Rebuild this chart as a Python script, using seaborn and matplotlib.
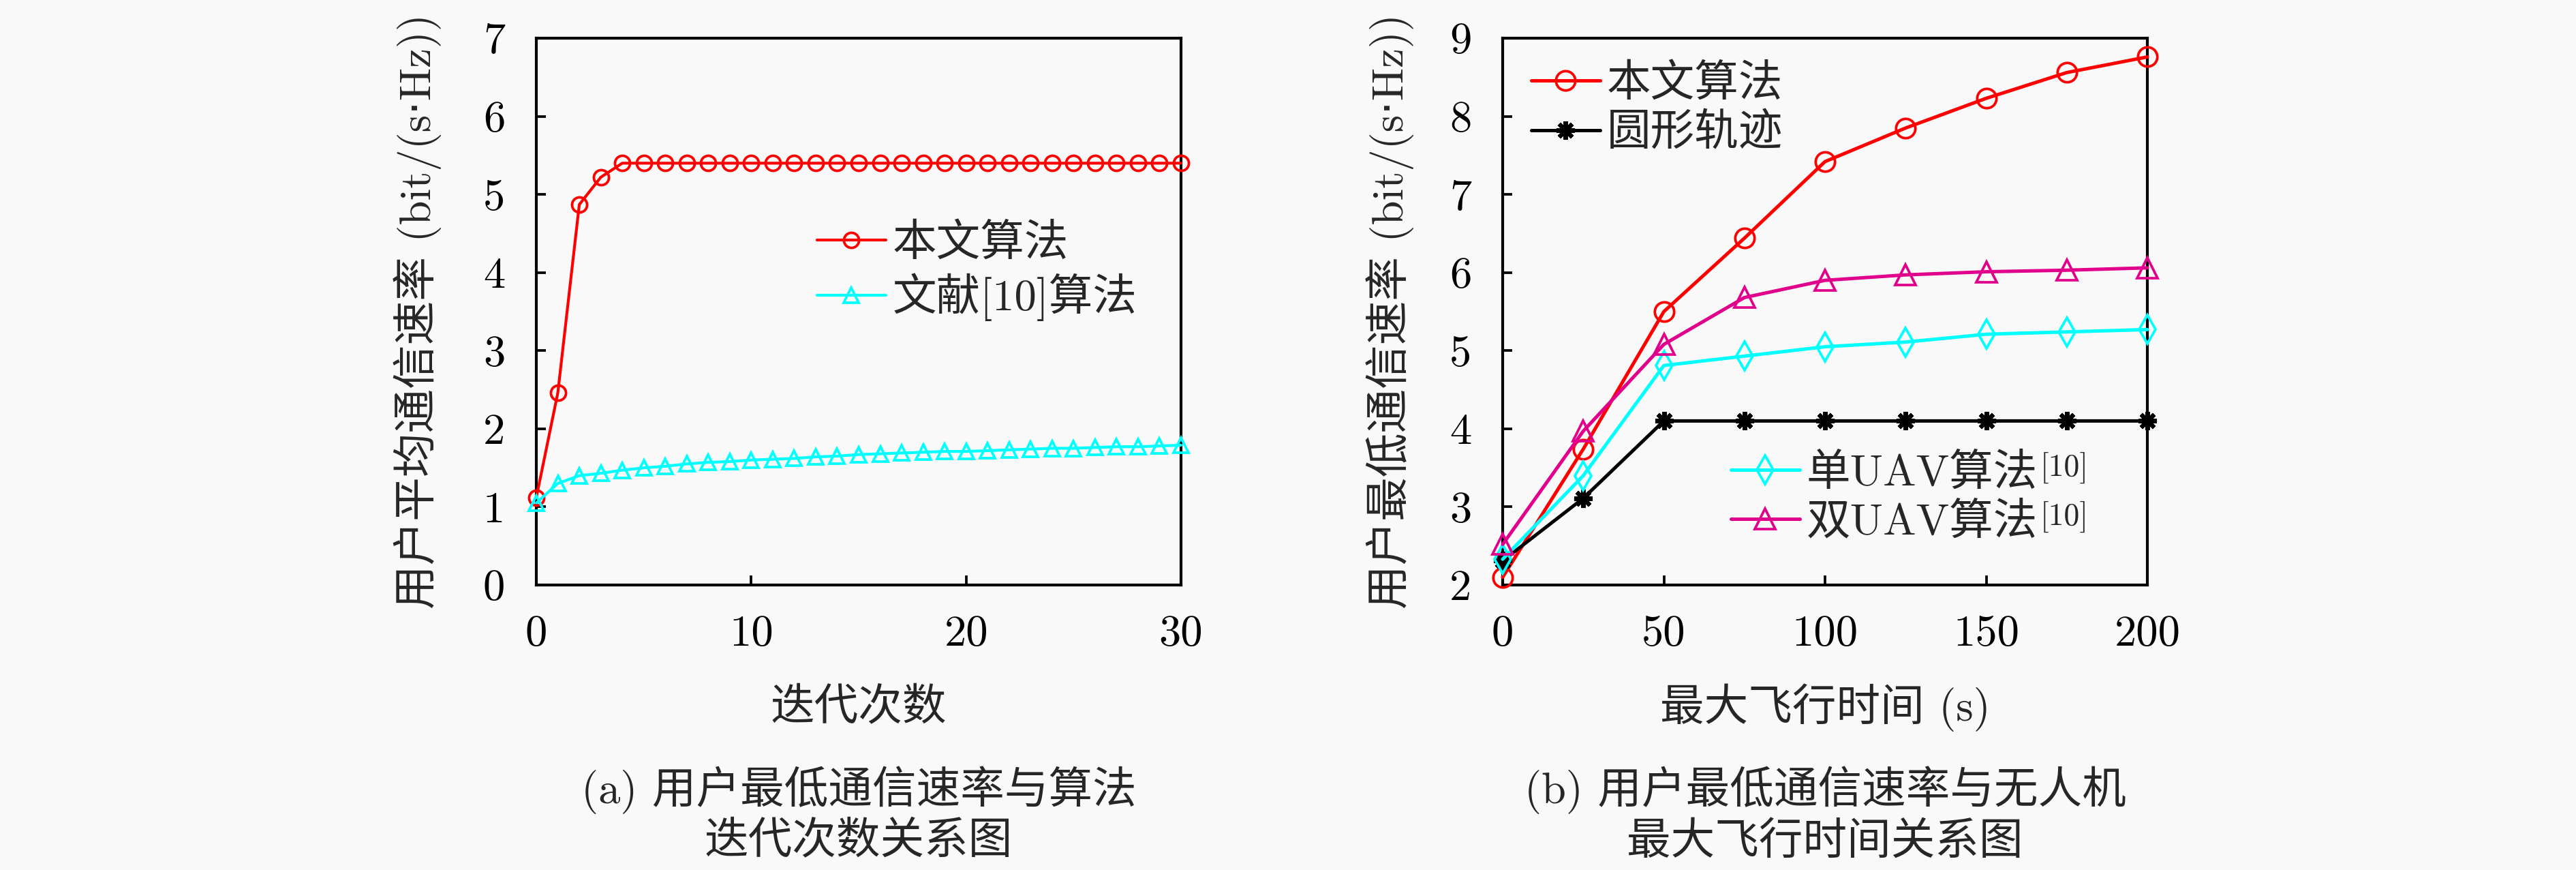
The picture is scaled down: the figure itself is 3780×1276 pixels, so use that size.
import numpy as np
import pandas as pd
import matplotlib
matplotlib.use("Agg")
import matplotlib.pyplot as plt
import seaborn as sns

# (a) iterations
iters = list(range(31))
ours_a = [1.12, 2.46, 4.87, 5.22] + [5.40] * 27
ref10_a = [1.05, 1.30, 1.40, 1.43, 1.47, 1.50, 1.52, 1.55, 1.57, 1.58, 1.60,
           1.61, 1.62, 1.64, 1.65, 1.67, 1.68, 1.69, 1.70, 1.71, 1.71,
           1.72, 1.73, 1.74, 1.75, 1.75, 1.76, 1.77, 1.77, 1.78, 1.79]

# (b) max flight time
times = [0, 25, 50, 75, 100, 125, 150, 175, 200]
ours_b = [2.10, 3.74, 5.50, 6.44, 7.42, 7.85, 8.23, 8.56, 8.76]
circle_b = [2.31, 3.11, 4.10, 4.10, 4.10, 4.10, 4.10, 4.10, 4.10]
single_b = [2.33, 3.40, 4.81, 4.93, 5.05, 5.11, 5.21, 5.24, 5.27]
double_b = [2.52, 3.97, 5.08, 5.68, 5.90, 5.97, 6.01, 6.03, 6.06]

labels_a = ["本文算法", "文献[10]算法"]
labels_b_top = ["本文算法", "圆形轨迹"]
labels_b_bot = ["单UAV算法", "双UAV算法"]

sns.set_theme(style="ticks")
plt.rcParams["font.family"] = ["cmr10", "DejaVu Sans", "Noto Sans CJK SC"]
plt.rcParams["axes.unicode_minus"] = False
bg = "#f9f9f9"
fs = 15.5

W, H = 3780, 1276
fig = plt.figure(figsize=(W / 300, H / 300), dpi=300, facecolor=bg)
ax1 = fig.add_axes([787 / W, 1 - 858 / H, 946 / W, 802 / H])
ax2 = fig.add_axes([2205 / W, 1 - 858 / H, 946 / W, 802 / H])

red, cyan, black, mag = "#ff0000", "#00ffff", "#000000", "#e0008c"

def draw(ax, x, y, color, marker, ms, lw, mew=0.9):
    sns.lineplot(x=x, y=y, ax=ax, color=color, marker=marker, markersize=ms,
                 linewidth=lw, markerfacecolor="none",
                 markeredgecolor=color, markeredgewidth=mew, clip_on=False,
                 zorder=3)

draw(ax1, iters, ours_a, red, "o", 5.3, 1.0)
draw(ax1, iters, ref10_a, cyan, "^", 5.3, 1.0)

draw(ax2, times, ours_b, red, "o", 6.8, 1.2)
draw(ax2, times, circle_b, black, (8, 2, 0), 6.5, 1.2, mew=1.5)
draw(ax2, times, single_b, cyan, "d", 7.0, 1.2)
draw(ax2, times, double_b, mag, "^", 7.0, 1.2)

ax1.set_xlim(0, 30)
ax1.set_xticks([0, 10, 20, 30])
ax1.set_ylim(0, 7)
ax1.set_yticks(range(8))
ax2.set_xlim(0, 200)
ax2.set_xticks([0, 50, 100, 150, 200])
ax2.set_ylim(2, 9)
ax2.set_yticks(range(2, 10))

for ax in (ax1, ax2):
    ax.set_facecolor(bg)
    for s in ax.spines.values():
        s.set_visible(True)
        s.set_color("black")
        s.set_linewidth(1.0)
    ax.tick_params(direction="in", length=3.4, width=0.9, colors="black",
                   labelsize=fs, top=False, right=False)
    ax.tick_params(axis="y", pad=11)
    ax.tick_params(axis="x", pad=10.5)
    ax.grid(False)

ax1.set_xlabel("迭代次数", fontsize=fs)
ax1.set_ylabel("用户平均通信速率 (bit/(s·Hz))", fontsize=fs)
ax2.set_xlabel("最大飞行时间 (s)", fontsize=fs)
ax2.set_ylabel("用户最低通信速率 (bit/(s·Hz))", fontsize=fs)
for ax, yx in ((ax1, (613 - 787) / 946), (ax2, (2040 - 2205) / 946)):
    ax.xaxis.set_label_coords(0.5, (858 - 1038) / 802)
    ax.xaxis.label.set_va("center")
    ax.yaxis.set_label_coords(yx, 0.5)
    ax.yaxis.label.set_va("center")

cap_y = (858 - 1194.5) / 802
ax1.text(0.5, cap_y, "(a) 用户最低通信速率与算法\n迭代次数关系图", transform=ax1.transAxes,
         ha="center", va="center", fontsize=fs, linespacing=1.25)
ax2.text(0.5, cap_y, "(b) 用户最低通信速率与无人机\n最大飞行时间关系图", transform=ax2.transAxes,
         ha="center", va="center", fontsize=fs, linespacing=1.25)

leg_kw = dict(frameon=False, fontsize=fs, handlelength=1.56, handletextpad=0.15,
              labelspacing=0.2, borderpad=0, borderaxespad=0, loc="upper left")
l1 = ax1.get_lines()
ax1.legend(l1[:2], labels_a, bbox_to_anchor=((1199 - 787) / 946, (858 - 328) / 802), **leg_kw)
l2 = ax2.get_lines()
leg_top = ax2.legend(l2[:2], labels_b_top, bbox_to_anchor=((2247 - 2205) / 946, (858 - 94) / 802), **leg_kw)
ax2.add_artist(leg_top)
leg_bot = ax2.legend(l2[2:4], labels_b_bot, bbox_to_anchor=((2540 - 2205) / 946, (858 - 665) / 802), **leg_kw)

# superscript citation marks after the lower legend entries
fig.canvas.draw()
inv = fig.transFigure.inverted()
for t in leg_bot.get_texts():
    bb = t.get_window_extent()
    x, y = inv.transform((bb.x1, bb.y1))
    fig.text(x + 0.001, y + 0.002, "[10]", fontsize=11, ha="left", va="top")

fig.savefig("out.png", dpi=300, facecolor=bg)
